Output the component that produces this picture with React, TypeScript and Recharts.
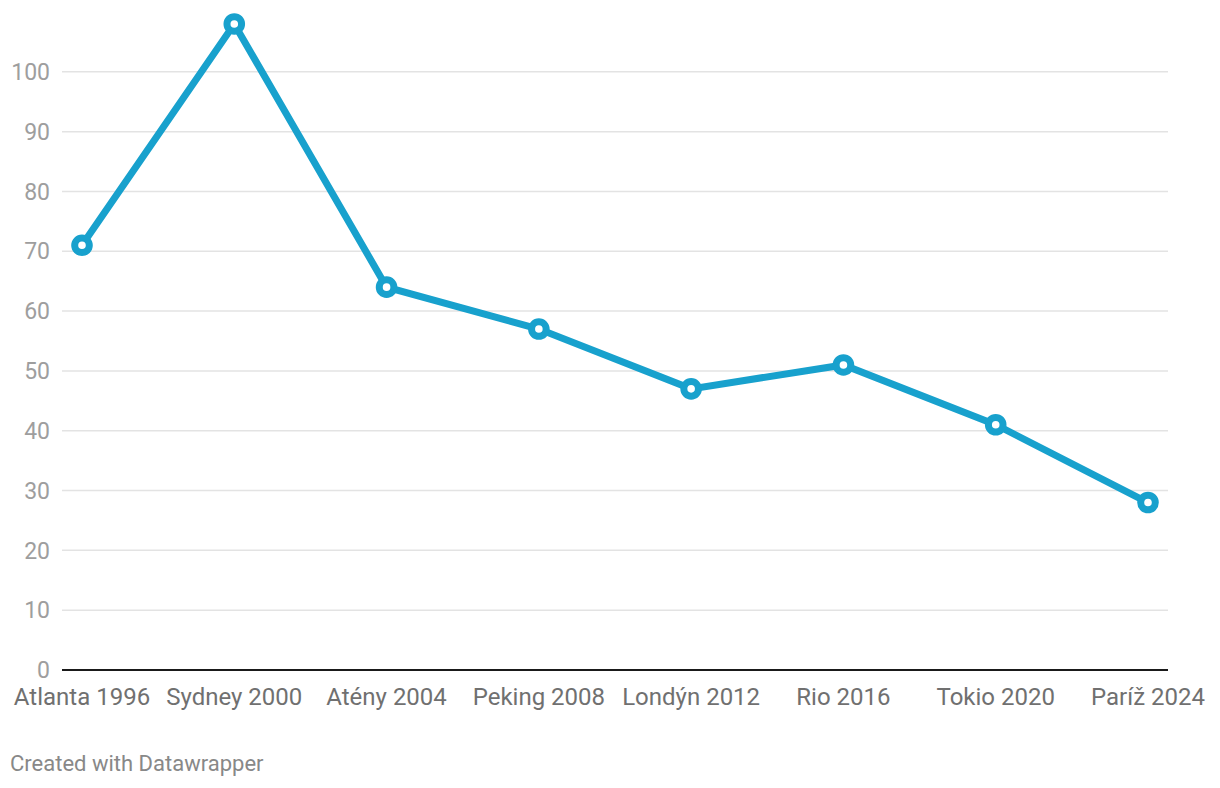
import { LineChart, Line, XAxis, YAxis, CartesianGrid, ReferenceLine } from "recharts";

const games = [
  "Atlanta 1996",
  "Sydney 2000",
  "Atény 2004",
  "Peking 2008",
  "Londýn 2012",
  "Rio 2016",
  "Tokio 2020",
  "Paríž 2024",
];
const values = [71, 108, 64, 57, 47, 51, 41, 28];
const yTicks = [0, 10, 20, 30, 40, 50, 60, 70, 80, 90, 100];

const data = games.map((name, i) => ({ name, value: values[i] }));

const BLUE = "#18a1cd";

function Dot(props: any) {
  const { cx, cy } = props;
  if (cx == null || cy == null) return null;
  return <circle cx={cx} cy={cy} r={7.3} fill="#fff" stroke={BLUE} strokeWidth={7} />;
}

export default function App() {
  return (
    <div style={{ position: "absolute", left: 0, top: 0, width: 1220, height: 788, background: "#fff", fontFamily: "Roboto, sans-serif" }}>
      <LineChart width={1220} height={788} data={data} margin={{ top: 12, right: 52, bottom: 0, left: 0 }}>
        <CartesianGrid vertical={false} horizontalValues={yTicks} stroke="#e3e3e3" strokeWidth={1.5} />
        <XAxis
          dataKey="name"
          axisLine={false}
          tickLine={false}
          padding={{ left: 20, right: 20 }}
          height={118}
          tickMargin={12}
          interval={0}
          tick={{ fill: "#707070", fontSize: 24, fontFamily: "Roboto" }}
        />
        <YAxis
          domain={[0, 110]}
          ticks={yTicks}
          width={62}
          axisLine={false}
          tickLine={false}
          tickSize={0}
          tickMargin={12}
          allowDataOverflow
          tick={{ fill: "#9e9e9e", fontSize: 23, fontFamily: "Roboto" }}
        />
        <ReferenceLine y={0} stroke="#1a1a1a" strokeWidth={2} />
        <Line
          dataKey="value"
          stroke={BLUE}
          strokeWidth={7}
          dot={<Dot />}
          activeDot={false}
          isAnimationActive={false}
        />
      </LineChart>
      <div style={{ position: "absolute", left: 10, top: 751, fontSize: 22, color: "#888", fontFamily: "Roboto" }}>
        Created with Datawrapper
      </div>
    </div>
  );
}
